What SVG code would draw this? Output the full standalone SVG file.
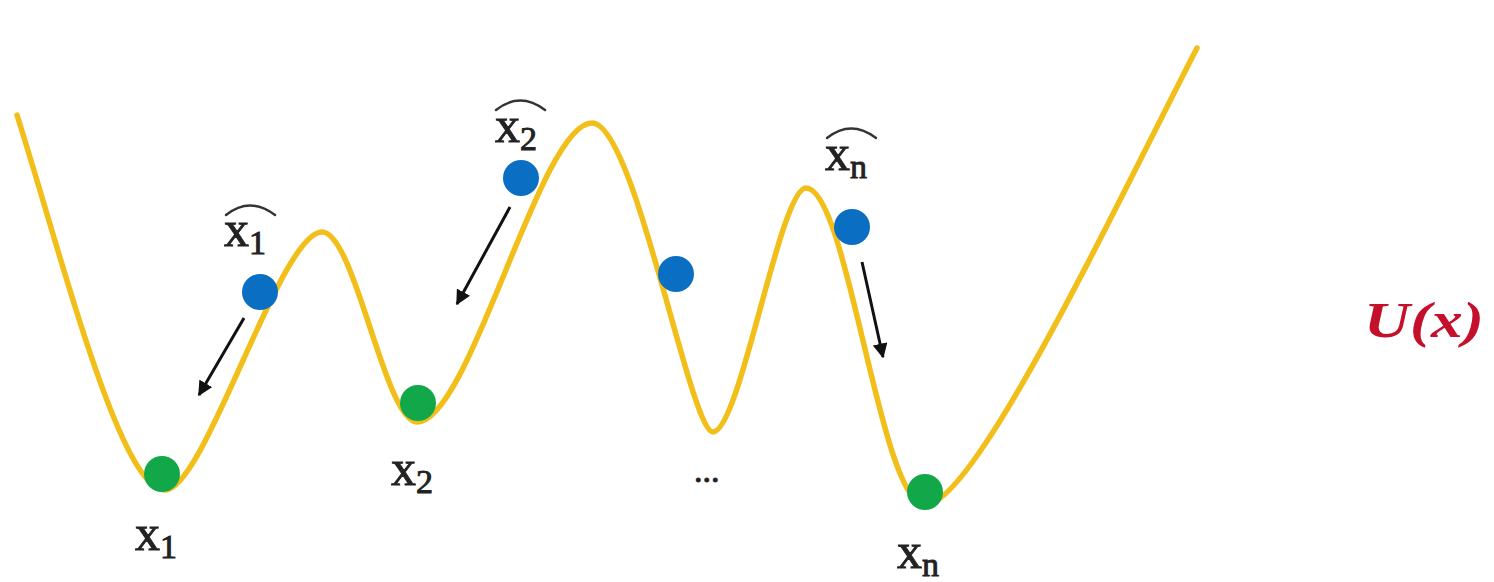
<svg xmlns="http://www.w3.org/2000/svg" width="1494" height="582" viewBox="0 0 1494 582">
<style>
.curve{fill:none;stroke:#F2BE1A;stroke-width:5.5;stroke-linecap:round;stroke-linejoin:round}
.blue{fill:#0A6FC2}
.green{fill:#12A84A}
.lbl{font-family:"Liberation Serif","DejaVu Serif",serif;fill:#222;stroke:#222;stroke-width:0.9px;font-size:50px}
.sub{font-size:34px}
.hat{fill:none;stroke:#333;stroke-width:2.4;stroke-linecap:round}
.arrow{stroke:#111;stroke-width:3;fill:none;marker-end:url(#ah)}
.ux{font-family:"Liberation Serif","DejaVu Serif",serif;font-weight:bold;font-style:italic;font-size:50px;fill:#C5102C}
</style>
<defs>
<marker id="ah" viewBox="0 0 10 10" refX="9" refY="5" markerWidth="5" markerHeight="5" orient="auto" markerUnits="strokeWidth">
<path d="M0,0 L10,5 L0,10 z" fill="#111"/>
</marker>
</defs>
<rect width="1494" height="582" fill="#fff"/>
<g id="potential">
<path class="curve" d="M17,115 C62,257 120,490 165,490 C205,490 280,232 322,232 C355,232 385,422 417,422 C470,422 540,123 592,123 C635,123 690,432 713,432 C740,432 780,188 806,188 C848,188 880,505 925,505 C975,505 1117,203 1197,48"/>
</g>
<g id="node-x1">
<circle class="green" cx="162" cy="474" r="18"/>
<text class="lbl" x="135" y="550">x<tspan class="sub" dy="8">1</tspan></text>
</g>
<g id="node-x2">
<circle class="green" cx="418" cy="403" r="18"/>
<text class="lbl" x="391" y="485">x<tspan class="sub" dy="8">2</tspan></text>
</g>
<g id="node-xn">
<circle class="green" cx="925" cy="492" r="18"/>
<text class="lbl" x="897" y="568">x<tspan class="sub" dy="8">n</tspan></text>
</g>
<g id="node-x1hat">
<circle class="blue" cx="260" cy="292" r="18"/>
<text class="lbl" x="224" y="246">x<tspan class="sub" dy="8">1</tspan></text>
<path class="hat" d="M226,215 Q250,196 275,215"/>
</g>
<g id="node-x2hat">
<circle class="blue" cx="521" cy="178" r="18"/>
<text class="lbl" x="495" y="142">x<tspan class="sub" dy="8">2</tspan></text>
<path class="hat" d="M496,110 Q520,91 545,110"/>
</g>
<g id="node-mid">
<circle class="blue" cx="676" cy="274" r="18"/>
<text class="lbl" x="694" y="482" style="font-size:34px">...</text>
</g>
<g id="node-xnhat">
<circle class="blue" cx="852" cy="227" r="18"/>
<text class="lbl" x="825" y="170">x<tspan class="sub" dy="8">n</tspan></text>
<path class="hat" d="M827,138 Q851,119 876,138"/>
</g>
<g id="label-U">
<text class="ux" x="1364" y="337" textLength="120" lengthAdjust="spacingAndGlyphs">U(x)</text>
</g>
<g id="connectors">
<line class="arrow" x1="244" y1="318" x2="199" y2="395"/>
<line class="arrow" x1="510" y1="207" x2="457" y2="304"/>
<line class="arrow" x1="862" y1="262" x2="883" y2="357"/>
</g>
</svg>
